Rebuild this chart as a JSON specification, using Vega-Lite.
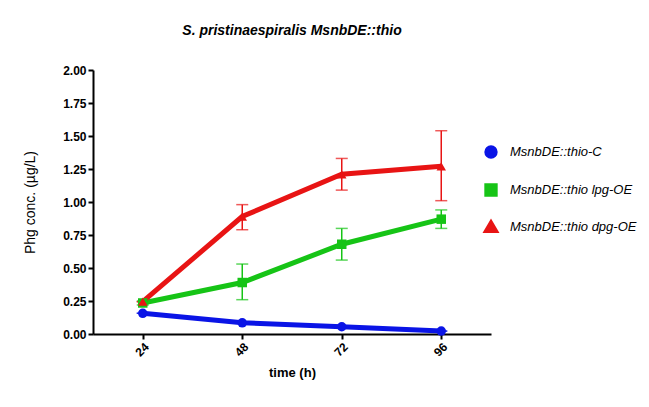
{
  "$schema": "https://vega.github.io/schema/vega-lite/v6.json",
  "width": 398,
  "height": 264,
  "autosize": {"type": "none"},
  "padding": {"left": 93, "top": 70, "right": 158, "bottom": 73},
  "background": "white",
  "title": {"text": "S. pristinaespiralis MsnbDE::thio", "font": "Liberation Sans", "fontStyle": "italic", "fontWeight": "bold", "fontSize": 14, "color": "black", "offset": 26, "anchor": "middle"},
  "config": {
    "view": {"stroke": null},
    "axis": {"grid": false, "labelOverlap": false, "domainColor": "black", "domainWidth": 2, "tickColor": "black", "tickWidth": 2, "tickSize": 5, "labelFont": "Liberation Sans", "labelFontWeight": "bold", "labelFontSize": 12, "labelColor": "black", "titleFont": "Liberation Sans", "titleFontWeight": "bold", "titleFontSize": 13, "titleColor": "black"}
  },
  "data": {"values": [
    {"time": 24, "series": "MsnbDE::thio-C", "mean": 0.157, "lo": 0.157, "hi": 0.157},
    {"time": 48, "series": "MsnbDE::thio-C", "mean": 0.085, "lo": 0.085, "hi": 0.085},
    {"time": 72, "series": "MsnbDE::thio-C", "mean": 0.055, "lo": 0.055, "hi": 0.055},
    {"time": 96, "series": "MsnbDE::thio-C", "mean": 0.022, "lo": 0.022, "hi": 0.022},
    {"time": 24, "series": "MsnbDE::thio lpg-OE", "mean": 0.235, "lo": 0.22, "hi": 0.25},
    {"time": 48, "series": "MsnbDE::thio lpg-OE", "mean": 0.39, "lo": 0.26, "hi": 0.53},
    {"time": 72, "series": "MsnbDE::thio lpg-OE", "mean": 0.68, "lo": 0.56, "hi": 0.8},
    {"time": 96, "series": "MsnbDE::thio lpg-OE", "mean": 0.87, "lo": 0.8, "hi": 0.94},
    {"time": 24, "series": "MsnbDE::thio dpg-OE", "mean": 0.245, "lo": 0.245, "hi": 0.245},
    {"time": 48, "series": "MsnbDE::thio dpg-OE", "mean": 0.89, "lo": 0.79, "hi": 0.98},
    {"time": 72, "series": "MsnbDE::thio dpg-OE", "mean": 1.21, "lo": 1.09, "hi": 1.33},
    {"time": 96, "series": "MsnbDE::thio dpg-OE", "mean": 1.27, "lo": 1.01, "hi": 1.54}
  ]},
  "encoding": {
    "x": {"field": "time", "type": "quantitative", "scale": {"domain": [12, 108], "nice": false, "zero": false}, "axis": {"values": [24, 48, 72, 96], "labelAngle": -45, "title": "time (h)", "titlePadding": 8}},
    "y": {"field": "mean", "type": "quantitative", "scale": {"domain": [0, 2], "nice": false}, "axis": {"values": [0, 0.25, 0.5, 0.75, 1, 1.25, 1.5, 1.75, 2], "format": ".2f", "title": "Phg conc. (µg/L)", "titleFontWeight": "normal", "titleFontSize": 14, "titlePadding": 25}},
    "color": {"field": "series", "type": "nominal", "scale": {"domain": ["MsnbDE::thio-C", "MsnbDE::thio lpg-OE", "MsnbDE::thio dpg-OE"], "range": ["#0a14e6", "#16c416", "#e81414"]}, "legend": {"title": null, "orient": "none", "legendX": 391, "legendY": 75, "rowPadding": 8, "symbolSize": 70, "symbolOpacity": 1, "labelFont": "Liberation Sans", "labelFontStyle": "italic", "labelFontSize": 13, "labelColor": "black", "labelOffset": 12, "labelLimit": 300}}
  },
  "layer": [
    {
      "mark": {"type": "rule", "strokeWidth": 1.5},
      "encoding": {
        "y": {"field": "lo", "type": "quantitative"},
        "y2": {"field": "hi"}
      }
    },
    {
      "mark": {"type": "tick", "orient": "horizontal", "size": 12, "thickness": 1.5},
      "encoding": {
        "y": {"field": "lo", "type": "quantitative"}
      }
    },
    {
      "mark": {"type": "tick", "orient": "horizontal", "size": 12, "thickness": 1.5},
      "encoding": {
        "y": {"field": "hi", "type": "quantitative"}
      }
    },
    {
      "mark": {"type": "line"},
      "encoding": {
        "strokeWidth": {"field": "series", "type": "nominal", "scale": {"domain": ["MsnbDE::thio-C", "MsnbDE::thio lpg-OE", "MsnbDE::thio dpg-OE"], "range": [5, 5, 3.5]}, "legend": null}
      }
    },
    {
      "mark": {"type": "point", "filled": true, "opacity": 1, "size": 90},
      "encoding": {
        "shape": {"field": "series", "type": "nominal", "scale": {"domain": ["MsnbDE::thio-C", "MsnbDE::thio lpg-OE", "MsnbDE::thio dpg-OE"], "range": ["circle", "square", "triangle-up"]}, "legend": {"title": null, "orient": "none", "legendX": 391, "legendY": 75, "rowPadding": 8, "symbolSize": 70, "symbolOpacity": 1, "labelFont": "Liberation Sans", "labelFontStyle": "italic", "labelFontSize": 13, "labelColor": "black", "labelOffset": 12, "labelLimit": 300}}
      }
    }
  ]
}
